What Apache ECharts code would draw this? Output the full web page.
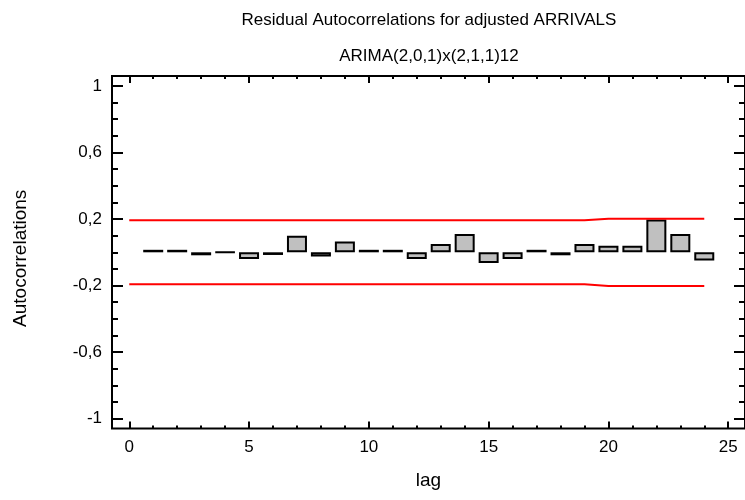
<!DOCTYPE html>
<html>
<head>
<meta charset="utf-8">
<script src="https://cdn.jsdelivr.net/npm/echarts@6/dist/echarts.min.js"></script>
<style>html,body{margin:0;padding:0;background:#fff;}#c{width:745px;height:500px;}</style>
</head>
<body>
<div id="c"></div>
<script>
const titleLine1 = 'Residual Autocorrelations for adjusted ARRIVALS';
const titleLine2 = 'ARIMA(2,0,1)x(2,1,1)12';
const xName = 'lag';
const yName = 'Autocorrelations';

const lags = [1,2,3,4,5,6,7,8,9,10,11,12,13,14,15,16,17,18,19,20,21,22,23,24];
const acf  = [0.015,0.015,-0.018,0.002,-0.04,-0.016,0.10,-0.025,0.065,0.015,0.015,-0.04,
              0.05,0.11,-0.065,-0.04,0.015,-0.018,0.05,0.04,0.04,0.197,0.11,-0.05];

const limitLags = [0,1,2,3,4,5,6,7,8,9,10,11,12,13,14,15,16,17,18,19,20,21,22,23,24];
const upperLimit = [0.192,0.192,0.192,0.192,0.192,0.192,0.192,0.192,0.192,0.192,0.192,0.192,0.192,
                    0.192,0.192,0.192,0.192,0.192,0.192,0.192,0.202,0.202,0.202,0.202,0.202];
const lowerLimit = [-0.192,-0.192,-0.192,-0.192,-0.192,-0.192,-0.192,-0.192,-0.192,-0.192,-0.192,-0.192,-0.192,
                    -0.192,-0.192,-0.192,-0.192,-0.192,-0.192,-0.192,-0.202,-0.202,-0.202,-0.202,-0.202];

const xMajorTicks = [0,5,10,15,20,25];
const xMinorTicks = [0,1,2,3,4,5,6,7,8,9,10,11,12,13,14,15,16,17,18,19,20,21,22,23,24,25];
const yMajorTicks = [-1,-0.6,-0.2,0.2,0.6,1];
const yMinorTicks = [-1,-0.9,-0.8,-0.7,-0.6,-0.5,-0.4,-0.3,-0.2,-0.1,0,0.1,0.2,0.3,0.4,0.5,0.6,0.7,0.8,0.9,1];

const FONT = '"Liberation Sans", Arial, sans-serif';
const XMIN = -0.72, XMAX = 25.7, YMIN = -1.06, YMAX = 1.06;

function xAx(pos, ticks, len, labels) {
  return {
    type: 'value', position: pos, min: XMIN, max: XMAX,
    axisLine: { show: false, onZero: false },
    axisTick: { show: true, inside: true, length: len, customValues: ticks, lineStyle: { color: '#000', width: 2 } },
    axisLabel: labels ? { show: true, customValues: ticks, fontSize: 17, color: '#000', fontFamily: FONT, margin: 10 } : { show: false },
    splitLine: { show: false }
  };
}
function yAx(pos, ticks, len, labels) {
  return {
    type: 'value', position: pos, min: YMIN, max: YMAX,
    axisLine: { show: false, onZero: false },
    axisTick: { show: true, inside: true, length: len, customValues: ticks, lineStyle: { color: '#000', width: 2 } },
    axisLabel: labels ? { show: true, customValues: ticks, fontSize: 17, color: '#000', fontFamily: FONT, margin: 10,
      formatter: v => String(v).replace('.', ',') } : { show: false },
    splitLine: { show: false }
  };
}

const xAxes = [xAx('bottom', xMajorTicks, 7, true), xAx('bottom', xMinorTicks, 3, false),
               xAx('top', xMajorTicks, 7, false), xAx('top', xMinorTicks, 3, false)];
Object.assign(xAxes[0], { name: xName, nameLocation: 'middle', nameGap: 43,
  nameTextStyle: { fontSize: 19, color: '#000', fontFamily: FONT } });
const yAxes = [yAx('left', yMajorTicks, 11, true), yAx('left', yMinorTicks, 6, false),
               yAx('right', yMajorTicks, 11, false), yAx('right', yMinorTicks, 6, false)];
Object.assign(yAxes[0], { name: yName, nameLocation: 'middle', nameGap: 82,
  nameTextStyle: { fontSize: 19, color: '#000', fontFamily: FONT, padding: [0, 12, 0, 0] } });

const chart = echarts.init(document.getElementById('c'), null, { renderer: 'canvas' });
chart.setOption({
  animation: false,
  backgroundColor: '#fff',
  grid: { left: 112, top: 76, width: 634, height: 352.6, show: true, borderColor: '#000', borderWidth: 2, backgroundColor: 'transparent' },
  xAxis: xAxes,
  yAxis: yAxes,
  graphic: [
    { type: 'text', x: 429, y: 20, style: { text: titleLine1, fontSize: 17, fontFamily: FONT, fill: '#000', align: 'center', verticalAlign: 'middle' } },
    { type: 'text', x: 429, y: 56, style: { text: titleLine2, fontSize: 17, fontFamily: FONT, fill: '#000', align: 'center', verticalAlign: 'middle' } }
  ],
  series: [
    { type: 'bar', xAxisIndex: 0, yAxisIndex: 0, barWidth: 20,
      data: lags.map((l, i) => [l, acf[i]]),
      itemStyle: { color: '#c0c0c0', borderColor: '#000', borderWidth: 2 } },
    { type: 'line', xAxisIndex: 0, yAxisIndex: 0, showSymbol: false, symbol: 'none',
      data: limitLags.map((l, i) => [l, upperLimit[i]]), lineStyle: { color: '#ff0000', width: 2 } },
    { type: 'line', xAxisIndex: 0, yAxisIndex: 0, showSymbol: false, symbol: 'none',
      data: limitLags.map((l, i) => [l, lowerLimit[i]]), lineStyle: { color: '#ff0000', width: 2 } }
  ]
});
</script>
</body>
</html>
